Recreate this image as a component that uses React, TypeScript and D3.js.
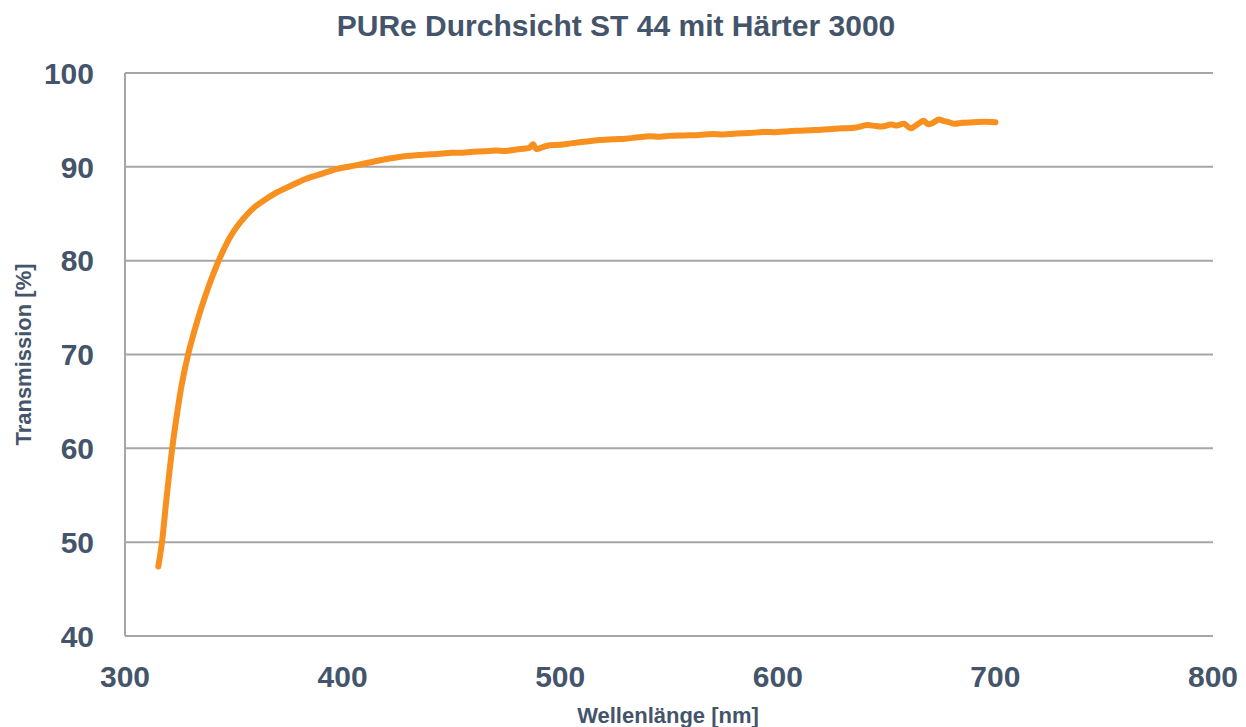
import React, { useRef, useEffect } from 'react';
import * as d3 from 'd3';

// Wellenlänge [nm] und Transmission [%]
const wavelengths = [
  315.3, 317, 319, 321.7, 323.8, 326, 329, 332, 335, 338.5, 342.5, 345, 348, 352, 356, 360,
  365, 370, 376, 383, 391, 398, 406, 415, 426, 435, 445, 450, 455, 460, 465, 470,
  475, 480, 484, 486, 487.5, 489, 492, 495, 500, 505, 512, 518, 525, 530, 536, 541,
  546, 550, 557, 564, 570, 575, 581, 587, 593, 600, 605, 610, 615, 620, 626, 630,
  636, 641, 645, 648, 652, 655, 658, 661, 664, 667, 669, 671, 674, 676, 678, 681,
  685, 690, 695, 700,
];
const transmission = [
  47.4, 50.0, 54.5, 60.0, 63.5, 66.7, 70.0, 72.6, 74.9, 77.3, 79.7, 81.0, 82.4, 83.8, 84.9, 85.8,
  86.6, 87.3, 87.95, 88.7, 89.3, 89.8, 90.15, 90.6, 91.05, 91.25, 91.4, 91.5, 91.5, 91.6, 91.65, 91.75,
  91.7, 91.85, 91.95, 92.05, 92.4, 91.9, 92.1, 92.3, 92.35, 92.5, 92.7, 92.85, 92.95, 93.0, 93.15, 93.25,
  93.2, 93.3, 93.35, 93.4, 93.5, 93.45, 93.55, 93.6, 93.7, 93.7, 93.8, 93.85, 93.9, 93.95, 94.05, 94.1,
  94.2, 94.45, 94.35, 94.3, 94.5, 94.4, 94.6, 94.1, 94.5, 94.9, 94.55, 94.65, 95.05, 94.9, 94.8, 94.6,
  94.7, 94.75, 94.8, 94.75,
];
const yTicks = [40, 50, 60, 70, 80, 90, 100];
const xTicks = [300, 400, 500, 600, 700, 800];

const title = 'PURe Durchsicht ST 44 mit Härter 3000';
const xLabel = 'Wellenlänge [nm]';
const yLabel = 'Transmission [%]';

export default function App() {
  const ref = useRef<SVGSVGElement>(null);

  useEffect(() => {
    const svg = d3.select(ref.current);
    svg.selectAll('*').remove();

    const width = 1246;
    const height = 727;
    const margin = { top: 73, right: 33, bottom: 91, left: 125 };
    const textColor = '#44546a';
    const gridColor = '#a6a6a6';
    const font = '"Liberation Sans", Arial, sans-serif';

    const x = d3
      .scaleLinear()
      .domain([300, 800])
      .range([margin.left, width - margin.right]);

    const y = d3
      .scaleLinear()
      .domain([40, 100])
      .range([height - margin.bottom, margin.top]);

    svg.attr('width', width).attr('height', height).attr('viewBox', `0 0 ${width} ${height}`);

    // Gitterlinien
    svg
      .append('g')
      .selectAll('line')
      .data(yTicks)
      .join('line')
      .attr('x1', margin.left)
      .attr('x2', width - margin.right)
      .attr('y1', d => y(d))
      .attr('y2', d => y(d))
      .attr('stroke', gridColor)
      .attr('stroke-width', 2);

    // linke Achse
    svg
      .append('line')
      .attr('x1', margin.left)
      .attr('x2', margin.left)
      .attr('y1', y(100))
      .attr('y2', y(40))
      .attr('stroke', gridColor)
      .attr('stroke-width', 2);

    // Y Beschriftung
    svg
      .append('g')
      .selectAll('text')
      .data(yTicks)
      .join('text')
      .attr('x', 94)
      .attr('y', d => y(d))
      .attr('dy', '0.36em')
      .attr('text-anchor', 'end')
      .attr('font-family', font)
      .attr('font-weight', 'bold')
      .attr('font-size', 30)
      .attr('fill', textColor)
      .text(d => d);

    // X Beschriftung
    svg
      .append('g')
      .selectAll('text')
      .data(xTicks)
      .join('text')
      .attr('x', d => x(d))
      .attr('y', 687)
      .attr('text-anchor', 'middle')
      .attr('font-family', font)
      .attr('font-weight', 'bold')
      .attr('font-size', 30)
      .attr('fill', textColor)
      .text(d => d);

    // Kurve
    const points = wavelengths.map((w, i) => [w, transmission[i]] as [number, number]);
    const line = d3
      .line<[number, number]>()
      .x(d => x(d[0]))
      .y(d => y(d[1]))
      .curve(d3.curveCatmullRom.alpha(0.5));

    svg
      .append('path')
      .datum(points)
      .attr('fill', 'none')
      .attr('stroke', '#f7901e')
      .attr('stroke-width', 6)
      .attr('stroke-linecap', 'round')
      .attr('stroke-linejoin', 'round')
      .attr('d', line);

    // Titel
    svg
      .append('text')
      .attr('x', 616)
      .attr('y', 36)
      .attr('text-anchor', 'middle')
      .attr('font-family', font)
      .attr('font-weight', 'bold')
      .attr('font-size', 30)
      .attr('fill', textColor)
      .text(title);

    // Achsentitel
    svg
      .append('text')
      .attr('x', 668)
      .attr('y', 723)
      .attr('text-anchor', 'middle')
      .attr('font-family', font)
      .attr('font-weight', 'bold')
      .attr('font-size', 22)
      .attr('fill', textColor)
      .text(xLabel);

    svg
      .append('text')
      .attr('transform', `translate(31,${(y(100) + y(40)) / 2}) rotate(-90)`)
      .attr('text-anchor', 'middle')
      .attr('font-family', font)
      .attr('font-weight', 'bold')
      .attr('font-size', 22)
      .attr('fill', textColor)
      .text(yLabel);
  }, []);

  return (
    <svg
      ref={ref}
      style={{ position: 'absolute', left: 0, top: 0, background: '#fff' }}
    />
  );
}
